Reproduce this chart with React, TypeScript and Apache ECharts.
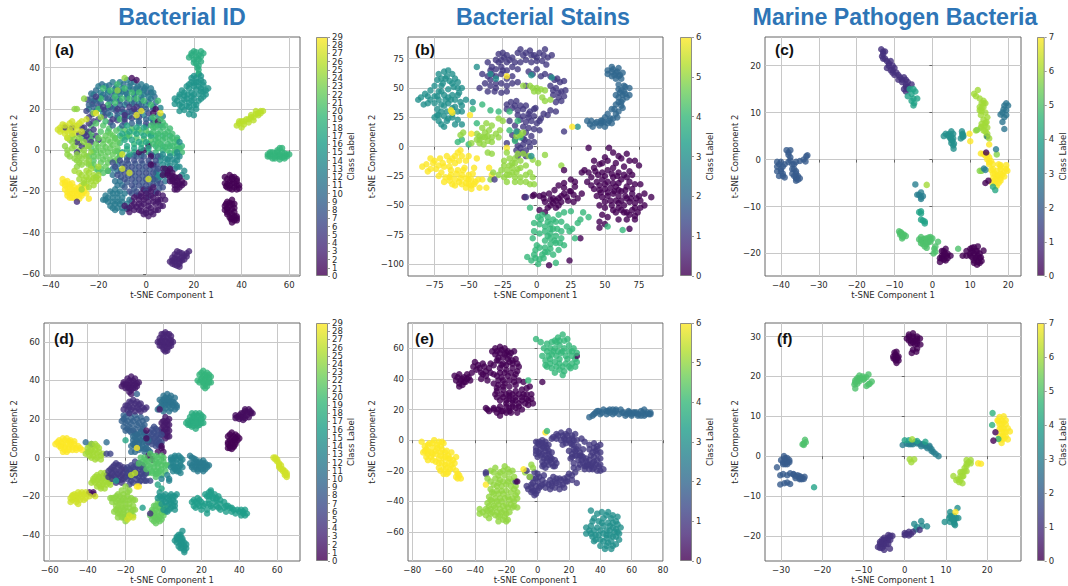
import React, { useEffect, useRef } from "react";
import * as echarts from "echarts";

type Group = [number, number[]];

const titles = ["Bacterial ID", "Bacterial Stains", "Marine Pathogen Bacteria"];
const panelLabels = ["(a)", "(b)", "(c)", "(d)", "(e)", "(f)"];
const viridis = ["#440154", "#482878", "#3e4989", "#31688e", "#26828e", "#1f9e89", "#35b779", "#6ece58", "#b5de2b", "#fde725"];

const fillA: Group[] = [
  [13, [-16,29,-13,28,-10,28.5,-7,29.5,-4,28,-1,27,2,25,-19,26,-15,23.5,-12,25,-9,22,-6,22.5,-3,22.5,0,22,3,21,6,20.5,-22,24,-19,20,-16,20.5,-13,21,-10,18.5,-7,16.5,-4,16,-1,17,2,15.5,5,17,7,16.5,-24,20,-21,19,-18,18,-15,17,-12,16,-9,16,-3,13,0,11.5,3,14.5,6,12]],
  [19, [-11,10.5,-8,8,-5,9,-2,8.5,1,8,4,7,7,7,10,7,13,6,-11,7,-8,6.5,-5,3,-2,3,1,3,4,2,7,2,10,2,13,0.5,15,2,-11,3.5,-8,0.5,-5,-1,-2,-1,1,-1,4,-1,7,0,10,-1.5,12,-1.5,-12,-0.5]],
  [11, [-11,-3,-8,-3.5,-5,-2.5,-2,-2.5,3,-3,6,-3,9,-4.5,12,-9,10,-10,7,-11,5,-14.5,8,-15,-12,-7,-12,-10,-14,-9,-16,-10,-14,-12,-11,-15,-13,-15,-10,-17,-12,-17]],
  [21, [-23,12,-25,9,-27,6,-23,1,-22,-1,-24,-3,-22,-5,-21,-9,-23,-7.5,-19,-9,-16,-10,-18,-11,-20,-10,-21,-13]],
  [5, [-27,11,-24,13,-22,14,-26,8,-24,9,-21,7,-25,5,-23,6.5]],
  [10, [-18.5,32,-15.5,31.5,-12.5,30.5,-9.5,32,-6.5,32.5,-3.5,31,-0.5,30,2,28,-21,29,-18,27,-14.5,27.5,-11.5,28.5,-8.5,28,-5.5,29.5,-2.5,29.5,0.5,28,3.5,26,-23,27.5,-20,24.5,-17,25.5,-14,25,-11,24,-8,25.5,-5,25,-2,24.5,1,23.5,4,23]],
  [6, [-24.5,24.5,-22.5,22.5,-20,21.5,-17.5,19.5,-15,21,-12.5,19,-10,20,-7.5,18.5,-5,18.5,-2,20,1,18,-25,19,-22.5,17.5,-20,15,-17.5,16.5,-15,13.5,-12,14.5,-9,13.5,-6,15.5,-3,16,0,13,3,13]],
  [21, [-21,13,-18,12,-15.5,10.5,-12.5,9.5,-9,10,-6,10.5,-3,10,0,9.5,3,11,-23,8,-19,9,-16,9,-13,6,-10,6,-7,7,-4,6,-1,5.5,2,5,5,4,-23,5]],
  [8, [-7,-3,-4,-3,-1,-3,2,-2,5,-3,-10,-6.5,-7.5,-6.5,-4.5,-6.5,-1.5,-6.5,1.5,-6.5,4.5,-7,-10.5,-10,-7.5,-9.5,-4.5,-9.5,-1.5,-9.5,1.5,-9.5,4.5,-10,-10.5,-13,-7.5,-12.5,-4.5,-12.5,-1.5,-12.5,1.5,-12.5,4.5,-13,-8,-15.5,-4.5,-15.5,-1.5,-15.5,1.5,-15.5,4.5,-16,-9,-18,-5,-18.5,-1.5,-18.5,1.5,-18.5,5.5,-18.5,-6,-21,-3,-22,1,-22.5]],
  [0, [34,-14,36,-13,38,-14,34,-16.5,36,-16,38,-17,35,-18.5,37,-18,33.5,-17.5,39,-18.5,35,-25.5,33.5,-26,36,-26,34,-28.5,36,-28.5,34,-30,36,-31,37,-32,35,-32.5,37,-34,38,-33,35.5,-33.5]],
  [3, [14,-49.5,16,-51,12,-52.5,14,-52.5,17,-51.5,11,-53.5,13,-53,15,-53.5,12,-55.5,14,-56.5,12,-50.5]],
  [18, [19,46,21,47.5,23,45.5,21,45,20,42.5,23,43,22,41,21.5,40]],
  [15, [21,35,22,37,19,35,23,34,21,33,18,32,20,32.5,22,31,24,31.5,26,30,18,30,21,29.5,24,28.5,15,29,17.5,27,20,27,23,28.5,14,27,16,26.5,19,26,24,26,13,24,16,24.5,19,24,22,24,14,22,17,21.5,20,22,16,19.5,19,19.5,21,20,18,17.5]],
  [26, [39,13,41,12.5,43,13.5,45,14.5,47,17,49,19,40,14,44,16,46,17.5]],
  [19, [52,-1,54,-1.5,56,-2,58,-1.5,53,-4,55,-3,57,-3.5,59,-3,56,1,52,-2,51,-3]],
  [29, [-34,-15.5,-32,-16.5,-33,-18,-31,-19,-29,-19,-27,-19,-33,-20.5,-31,-21,-29,-21,-27,-21,-25,-21,-32,-23,-30,-23,-28,-23.5,-35,-16]],
  [25, [-27,-12,-24,-11,-26,-14.5,-24,-14,-22,-13.5,-27,-17,-25,-16.5,-22,-17,-20,-14]],
  [27, [-35,10,-33,9,-31,10,-29,12,-33,11,-35,12.5,-31,14,-30,8]],
  [24, [-32,5,-30,5.5,-28,3.5,-33,0,-30,2,-28,0,-25,2,-32,-3,-28,-3,-26,-2,-29,-5,-27,-7,-24,-5,-23,-1]],
  [22, [-18,5,-16,5,-13,5.5,-20,1.5,-17,1.5,-14,2.5,-19,-1.5,-16,-1,-13,-0.5,-18,-4.5,-15,-4.5,-12,-4,-22,-3]],
  [14, [8,-4,11,-4.5,13,-5,7,-7,10,-7.5,13,-8,5,-12,8,-12]],
  [20, [4,14,7,13.5,4,11,7,11,10,10.5,2,8,5,8,8,8,11,8,4,5,7,5,10,5,13,5,1,3,5,1,8,1.5,11,2,13,2.5]],
  [12, [-14,-21,-12,-21,-16,-23,-14,-25,-12,-25,-10,-25,-12,-28,-14,-28,-17,-24,-10,-28,-8,-26]],
  [2, [-8,-28.5,-6,-27,-4,-27.5,-2,-29.5,0,-30.5,2,-30,4,-29,6,-27,-6,-24.5,-3,-26,-1,-26,1,-27,3,-25,5,-24,-4,-22,-2,-22.5,0,-23,2,-22,4,-21,7,-22,1,-19,-1,-19,5,-25]],
  [1, [9,-10,11,-12.5,13,-13.5,9,-12,11,-14,13,-17,15,-17,12,-15.5,14,-16,10,-15,12,-19]],
];

const pointsA: Group[] = [
  [12, [-20,31,-17,31,-14,33,-11,33,-8,34,-5,33,-2,32,0,31,2,30,3,28,-1,29,-4,30,-7,31,-10,30,-13,30,-16,28,-19,28,-22,27,-2,26,1,26,-5,27,-8,27,-11,27]],
  [9, [-23,25,-24,22,-21,24,-22,21,-19,23,-16,25,-14,20,-11,22,-8,23,-5,23,-2,22,-12,17,-9,18,-6,19,-3,18,0,20,-14,12,-10,12,-6,13,-16,18,-3,14,0,15,3,20]],
  [20, [-18,30,-15,29,-12,32,-9,30,-6,28,-3,28,-19,25,-16,22,-13,26,-10,25,-7,25,-4,25,-1,24,-20,20,-13,23,5,24,2,22,-17,14,-11,15]],
  [5, [-21,26,-18,21,-12,20,-7,21,-4,21,-14,15,-9,15,-24,16,-26,11,-28,8,-25,7,-22,10,-20,5,-29,4,-27,2,-31,11,-34,11,-29,-1,-23,4]],
  [1, [-6,35,-4,34,3,18,5,14,4,20,-1,0,1,2,-3,-1,2,-3,3,-7,7,-9]],
  [24, [-26,25,-9,35,-12,29,-22,18,-19,16,-29,20,-30,20]],
  [17, [-10,8,-7,9,-4,8,-1,7,2,7,-9,5,-6,5,-3,4,0,4,-8,2,-5,1,-2,1,1,1,-10,-1,-7,-2,-4,11,-8,12,-1,11]],
  [20, [3,16,6,15,2,12,5,12,8,12,3,9,6,9,9,9,5,6,8,6,11,6,3,3,6,3,9,3,12,4,14,1,15,-1,12,0,9,0]],
  [14, [7,-2,10,-3,13,-3,6,-5,9,-6,12,-6,14,-3,8,-9,4,-11,3,-14,6,-13,14,-8,16,-10,17,-13,15,-12,14,4,13,-1]],
  [22, [-20,6,-17,7,-14,7,-21,3,-18,3,-15,4,-12,4,-21,0,-18,0,-15,1,-12,1,-20,-3,-17,-3,-14,-2,-11,-2,-19,-6,-16,-6,-13,-5,-17,-8,-15,8,-22,-7]],
  [24, [-33,6,-31,4,-28,6,-34,2,-31,1,-33,-2,-29,-2,-26,0,-24,2,-30,-4,-27,-4,-25,-3,-28,-6,-25,-6,-31,7,-26,4,-29,-8,-24,-7]],
  [27, [-36,9,-34,8,-32,10,-30,12,-28,13,-34,12,-32,13,-36,11,-33,6,-31,8,-29,10,-27,14,-25,15,-37,10,-27,9]],
  [7, [-8,-5,-5,-5,-2,-5,1,-5,4,-5,-9,-8,-6,-8,-3,-8,0,-8,3,-8,5,-9,-9,-11,-6,-11,-3,-11,0,-11,3,-11,-9,-14,-6,-14,-3,-14,0,-14,3,-14,6,-16,-6,-17,-3,-17,0,-17,3,-17,7,-18,-7,-20,-4,-20,0,-20,4,-20,-13,-8,-11,-5,-12,-12,-14,-6]],
  [12, [-17,-22,-15,-20,-13,-19,-11,-20,-16,-25,-18,-24,-14,-23,-12,-23,-10,-23,-15,-27,-13,-26,-11,-26,-13,-29,-10,-30,-9,-21,-7,-24,-8,-28]],
  [2, [-9,-27,-7,-28,-5,-26,-3,-29,-1,-31,1,-32,3,-31,5,-29,7,-27,-5,-29,-2,-27,0,-29,2,-28,4,-26,6,-24,-1,-24,1,-25,-3,-24,-5,-23,3,-23,5,-21,0,-21,-2,-21,2,-20,8,-24,-7,-30,3,-18]],
  [1, [8,-9,10,-9,9,-11,11,-11,7,-12,12,-13,14,-13,10,-13,13,-15,15,-15,11,-15,16,-16,12,-17,14,-18,13,-19,2,-7]],
  [0, [33,-13,35,-12,37,-13,38,-15,39,-17,38,-19,36,-19,34,-18,33,-16,35,-15,37,-16,36,-14,35,-17]],
  [0, [34,-25,36,-24,37,-26,33,-27,35,-27,37,-28,33,-29,35,-30,37,-30,38,-32,36,-33,34,-31,38,-34,36,-35,34,-28]],
  [3, [13,-49,15,-50,17,-50,18,-49,11,-52,13,-51,15,-52,10,-54,12,-54,14,-54,16,-53,11,-55,13,-56,14,-55]],
  [29, [-35,-14,-33,-15,-31,-16,-34,-17,-32,-18,-30,-18,-28,-18,-34,-19,-32,-21,-30,-20,-28,-20,-26,-20,-33,-22,-31,-23,-29,-22,-27,-22,-25,-18,-24,-23.5]],
  [25, [-28,-11,-25,-10,-23,-9,-22,-12,-25,-13,-28,-14,-26,-16,-23,-15,-21,-15,-24,-18,-27,-19,-20,-12,-30,-10,-20,-8]],
  [18, [18,45,20,48,23,48,19,47,22,46,24,47,20,44,22,44,21,42,22,39,22,37]],
  [15, [20,36,23,36,19,33,22,33,24,33,17,31,20,31,23,30,25,29,16,28,19,28,22,27,25,27,14,26,17,25,20,25,23,25,12,25,15,23,18,23,21,22,15,21,18,21,20,17,14,19,12,22.5]],
  [26, [38,12,40,11,39,14,41,14,43,15,45,16,47,18,48,19,46,19,44,17,42,15,48,18]],
  [19, [51,-2,53,-1,55,-1,57,-1,59,-2,60,-2,52,-3,54,-3,56,-3,58,-3,54,-4,56,-4.5,58,-4,57,1,55,0]],
  [27, [-10,-9,-7,-11,-10,-2,1,-14]],
  [4, [-29,-25,-9,17,-5,20]],
  [28, [-4,17,-2,19,6,18,-21,18]],
];

const fillB: Group[] = [
  [0, [42,-12,48,-14,52,-12,58,-14,62,-10,68,-12,43,-21,50,-25,55,-23,59,-25,64,-24,68,-30,37,-30,40,-33,46,-33,50,-32,56,-31,60,-31,65,-37,70,-36,47,-39,52,-39,57,-38,60,-37,69,-44,73,-44,50,-47,54,-46,58,-46,62,-46,66,-44,72,-52,76,-52,56,-54,60,-52,64,-56,68,-58,72,-59,5,-44,10,-45,14,-46,18,-42,22,-43,25,-38,8,-52,12,-48,16,-50,20,-35,28,-30]],
  [6, [-75,-12,-72,-16,-69,-14,-64,-12,-60,-8,-57,-12,-63,-20,-59,-23,-55,-24,-50,-28,-47,-23,-64,-26,-62,-32,-57,-30,-52,-31,-48,-33,-45,-30,-43,-28,-53,-18]],
  [3, [-66,60,-70,58,-75,52,-62,54,-58,50,-70,47,-73,43,-80,43,-67,40,-63,40,-58,44,-70,36,-62,28,-73,27,-66,22,-58,30]],
  [2, [56,66,59,64,61,61,57,61,60,60,64,47,63,44,61,46,60,38,62,38,57,32,59,25,54,24,53,22,49,21,47,20,44,21,39,19,64,52,60,49]],
  [4, [3,-62,8,-64,12,-70,15,-70,10,-74,13,-80,17,-82,8,-76,6,-72,2,-86,-2,-92,6,-90,10,-87]],
  [5, [-42,6,-40,8,-36,9,-33,4,-28,8,-24,-16,-20,-16,-16,-14,-14,-19,-18,-22,-22,-24]],
  [1, [-24,76,-20,74,-16,72,-10,78,-4,78,0,76,5,78,-34,65,-28,72,-25,65,-34,57,-30,50,-22,47,15,58,12,48,16,46,-2,32,-6,28,-16,35,-14,27,-16,18,2,22,-12,-1,-9,6]],
];

const pointsB: Group[] = [
  [3, [-87,40,-85,42,-83,36,-82,45,-78,40,-80,37,-78,48,-75,43,-72,47,-70,52,-73,57,-72,62,-68,64,-65,65,-62,62,-60,58,-58,55,-55,50,-57,46,-61,51,-64,56,-67,58,-69,54,-65,49,-68,44,-72,40,-75,37,-65,42,-62,44,-60,40,-56,38,-52,40,-55,35,-60,34,-65,37,-68,35,-70,30,-66,30,-62,33,-55,30,-75,25,-72,22,-70,19,-68,17,-65,24,-62,25,-68,26,-58,23,-55,19,-60,19,-47,38,-72,27,-73,32]],
  [1, [-28,79,-25,80,-22,78,-30,74,-26,74,-22,72,-18,76,-14,80,-12,83,-8,80,-5,82,-2,78,2,80,6,83,8,76,11,78,-12,72,-8,74,-4,72,0,73,4,73,7,70,-18,68,-14,66,-36,72,-33,68,-30,66,-26,68,-22,65,-40,62,-36,60,-33,62,-30,60,-26,62,-22,58,-18,60,-38,54,-34,52,-30,54,-26,54,-22,52,-18,54,-14,55,-42,50,-36,47,-31,47,-26,46,-6,64,-3,62,0,66,3,60,6,62,10,60,13,57,17,55,20,56,10,52,14,50,18,47,21,48,12,44,16,42,20,43,14,38,18,39,-8,52]],
  [1, [-22,36,-19,38,-15,39,-12,35,-8,35,-22,32,-18,33,-14,31,-10,32,-5,30,-1,33,5,28,10,31,14,30,-10,26,-6,25,-2,26,3,24,8,27,-12,23,-8,21,-4,22,0,20,-20,22,-10,17,-6,16,-2,15,2,14,-14,13,-8,12,-4,9,-18,10,-16,6,-10,7,-6,4,-22,3,-14,1,-10,2,-5,0,-15,-3,-11,-5,-8,-3,-2,4,-8,-8,-14,-8]],
  [2, [52,65,55,68,60,67,63,63,52,62,55,60,58,58,62,58,60,53,65,51,68,50,62,48,58,44,60,42,65,45,68,44,63,40,58,36,62,35,60,30,55,32,52,28,58,28,56,24,50,25,48,22,52,20,46,18,50,17,40,22,37,22,43,20,41,17,55,20,47,22,63,33,66,42,58,63,55,64]],
  [5, [-5,52,-3,50,0,50,3,49,6,48,-2,47,1,47,4,42,6,39,10,40,-10,52]],
  [4, [-58,4,-55,6,-50,2,-44,20,-47,32,-40,36,-28,30,-34,31,-20,14,-14,22,-16,5,-12,8,-20,30]],
  [5, [-44,6,-42,3,-39,2,-36,5,-33,8,-30,11,-27,14,-25,22,-28,24,-35,14,-38,12,-40,16,-44,11,-42,9,-38,8,-33,18,-37,20,-48,3,-36,-5,-33,-6,-12,10,-15,9,-10,12,-14,12,-54,12,-56,10]],
  [6, [-81,-15,-84,-17,-78,-10,-76,-14,-78,-19,-80,-21,-74,-19,-71,-10,-66,-8,-62,-10,-58,-5,-56,-3,-55,-8,-52,-12,-60,-14,-64,-17,-68,-17,-70,-22,-72,-25,-67,-26,-63,-24,-58,-20,-54,-20,-50,-24,-46,-18,-48,-28,-52,-27,-56,-27,-60,-28,-64,-29,-68,-30,-60,-33,-55,-32,-50,-32,-46,-32,-42,-35,-48,-36,-52,-35,-37,-35,-40,-28,-35,-18,-33,-24,-44,-10,-50,-8,-63,31,-62,29,-49,27,-48,11,-22,60,-22,-1]],
  [5, [-32,-22,-28,-24,-26,-20,-24,-26,-22,-20,-20,-24,-18,-18,-15,-22,-12,-18,-16,-26,-12,-26,-8,-24,-5,-22,-24,-12,-20,-10,-16,-10,-12,-12,-8,-16,-18,-14,-14,-6,-22,-5,-6,-8,-3,-11,1,-14,6,-7,-10,-6,-16,-30,-12,-30,-8,-30,-5,-32,-2,-32,-3,-26,-34,-28,-22,-30,18,-16]],
  [0, [-2,-41,2,-42,5,-41,9,-40,13,-37,16,-33,20,-31,25,-28,28,-34,12,-44,16,-44,20,-40,24,-38,27,-41,6,-47,10,-50,14,-52,18,-47,23,-46,27,-47,30,-44,33,-40,2,-54,6,-56,20,-20,35,-20,38,-22,42,-18,46,-15,50,-9,53,-1,56,-5,60,-8,66,-6,38,-1,72,-12,75,-16,45,-24,48,-22,52,-20,56,-18,60,-22,64,-17,68,-21,70,-24,33,-22,40,-26,44,-30,48,-28,52,-30,56,-26,62,-28,66,-26,42,-36,46,-37,50,-36,54,-35,58,-34,62,-38,66,-34,72,-32,76,-32,44,-42,48,-43,52,-42,56,-40,60,-42,65,-42,70,-40,75,-42,79,-40,84,-43,46,-50,50,-52,55,-50,60,-48,64,-50,68,-47,72,-48,76,-46,79,-50,48,-58,52,-60,46,-64,58,-56,62,-54,66,-56,70,-54,74,-56,60,-62,66,-62,72,-62,68,-70,46,-69,50,-66,24,-97,9,-101,32,-78,-9,-43,-3,-42]],
  [4, [-5,-52,1,-60,4,-58,8,-60,12,-62,16,-58,20,-56,25,-55,-2,-65,2,-66,6,-68,10,-66,14,-64,18,-64,22,-68,26,-70,30,-65,34,-56,38,-60,32,-62,-2,-72,2,-74,10,-70,18,-72,24,-72,28,-78,-3,-78,6,-80,10,-78,14,-76,18,-78,20,-84,14,-82,10,-83,6,-86,16,-88,0,-84,-1,-88,4,-92,8,-90,12,-92,-7,-94,-4,-97,-1,-95,2,-96,5,-95,1,-100,14,-99,52,-68,63,-71]],
  [3, [-4,-8,-34,62,-44,68,-30,58,-4,61,11,59,30,17,-15,13]],
  [6, [26,17]],
  [1, [-8,-43,-31,-28,20,13]],
];

const fillC: Group[] = [
  [0, [2.5,-21,3.5,-21.5,4,-20,3,-20.5,2.5,-19.5,10,-20.5,11,-20,12,-20.5,12.5,-21,11.5,-21,10.5,-19.5,11,-22,12.5,-22,11.8,-19.5]],
  [1, [-13,23,-13.3,22,-12.5,21.5,-11.5,20.5,-10.5,19,-10.5,18.5,-8.5,17.5,-8,17,-7,15.5,-6.5,15.5]],
  [7, [16,-3,17,-3.5,18,-3,18,-4,17.5,-5,19,-2.5,15,-1,16,-2,14,0.8,15,-0.5,16.5,-4.3,18,-1.5]],
  [6, [12.5,13,13.5,12,13,11,12.5,10.5,13.5,8.5,13,7,14,7.8,14,6,14.3,5]],
  [5, [-2.5,-17.5,-1.5,-18,-1,-17.5,-0.5,-17,-3,-17.2,-8,-15.8,-7.8,-16.5,-8.5,-15.6,0.8,-18.5,-1.7,-16.8]],
  [2, [-40.5,-1,-39.5,-1.5,-40,-2.5,-39.5,-3.5,-38,1.5,-37.5,-0.2,-36.5,-2,-36,-3,-35.5,-3.5,-36,-4]],
  [3.5, [4,5.2,5,5,5.3,4,7.9,5.3,4.8,4.5]],
];

const pointsC: Group[] = [
  [1, [-13.5,23.5,-13,22.5,-12.5,23,-13,21.5,-12,21,-11,21,-11.5,20,-10.5,20,-12,19.5,-11,19,-10,19.5,-9.5,18.5,-10,18,-9,18,-9,17,-7.5,17.5,-7,17,-6.5,16.5,-8,16.5,-7,16,-5.5,16,-7.5,15,-6.5,15,-7,14.5]],
  [4, [-6,15,-5,15,-4.5,14.5,-5.5,14,-6.5,13.5,-5,13,-4,13,-5.5,12.5,-4.8,12,-5,11.5]],
  [2, [-41,-0.5,-40,-0.5,-39,-1,-41,-1.5,-41,-2.5,-40,-2,-40.5,-3.5,-39.5,-3,-39,-3.8,-38.5,2,-37.5,2,-38,1,-37.5,0.5,-38,-0.5,-37,-1,-36.5,-1,-36,-0.5,-35,-0.3,-37,-2,-37,-3,-36,-2.5,-36.5,-3.5,-36,-3.8,-35.5,-4.3,-36,-4.5,-35,-4,-34,0,-33.3,0.7,-33,0.9,-33.5,-0.4]],
  [3, [-4.5,-5.3,-4,-7.5,-3.5,-7.5,-3,-7,-3,-8,-2.5,-7.8,-3,-8.4]],
  [4, [-3.5,-11.2,-3,-11,-3,-11.5,-3,-12.8,-2.5,-13,-2,-13.2,-2,-13.6]],
  [6, [-1.5,-5.4]],
  [5, [-8.8,-15.3,-8.3,-15.5,-8.5,-16,-8,-16.2,-7.5,-16,-7,-16.3,-8,-16.8,-3.5,-17,-3,-16.5,-2.5,-17,-2,-17,-1,-16.6,-0.5,-16.5,0,-16.8,-3,-17.8,-2.5,-18,-1.5,-17.6,-0.5,-17.5,-2,-18.5,-1.5,-18.8,1.5,-17.5,0.5,-19,0.8,-19.6,0.3,-20,6.8,-19]],
  [0, [2,-21,2.5,-20.5,3,-19.5,3.5,-19,3.8,-20.5,4.8,-20.5,3,-21.3,4,-21,2,-21.8,3.3,-20,10,-19,10.5,-18.8,11,-18.7,12,-18.5,9,-19.5,8,-20.5,9,-20.5,10,-20,11.5,-19.5,13.5,-19.4,12.5,-20,10.5,-20.8,11.5,-20.8,12.8,-20.8,11,-21.5,12,-21.8,13,-21.6,11.8,-22.4]],
  [3.5, [3,5,3.5,5.5,4.5,5.5,5,6,5.5,5.5,4.5,4.8,5,4.2,5.5,4.5,5,3.5,5.5,3,5.6,2.3,7.8,6,8,5.5,8,4.8,7.5,4.5,8.2,5,5.7,3.4]],
  [2.7, [19.5,12,19,11.5,18.8,10.7,19.5,10.5,20,11.5,18.5,10,19.5,9.5,18,9.6,19,9,18.5,8,19,6.5,14.5,4.9]],
  [6, [11,14,12,14.8,11.5,13.5,13.5,12.5,13,12,14,12,12.5,11.2,13.5,11.2,13,10.3,14,10,12.8,9.5,14.5,9,14.3,8,13,7.6,13.8,7.2,14.5,6.8,12.8,6.8,13.5,6.2,11.5,6.2,14.5,5.5,15,4.5]],
  [7, [9.8,5.5,10,3.9,15,3.2,12.8,1.3,13.5,1.2,14.5,1,15,0.5,14.5,0,15.5,-0.3,16,-1,17.5,-1,18,-1.2,19.5,-1.2,18,-2,19.5,-2,17,-2.4,15.5,-2.2,19.8,-2.4,16.5,-3,18.5,-3.2,17.5,-3.4,19,-3.6,16,-4,17,-4.2,18,-4.5,16.5,-5,15.8,-5,17,-5.6]],
  [5.7, [11.8,6.3,12.5,-2.4,13,-2.4,17,1.1]],
  [3, [16.8,2.2,13.6,-1.9,14,-2.2]],
  [0, [14.2,1.5,14,-5,14.8,-4.5]],
  [4.2, [16,-5.8,16.6,-6.5]],
];

const fillD: Group[] = [
  [3, [0,64,2,64,-1,61,1,61,3,61,-2,60,0,59,2,59,4,59.5,-1,58,1,58,3,57.5,0,56,2,55.5,4,63]],
  [2, [-18,40,-16,40,-20,38,-18,37.5,-16,37.5,-14,38.5,-21,38,-19,36.5,-17,35,-15,36]],
  [4, [-17,28.5,-15,28,-13,27.5,-19,27,-17,25,-13,25,-10,25,-19,24.5]],
  [9, [-20,21,-17,20.5,-14,20,-11,19,-20,18,-17,17.5,-14,17,-11,16,-19,15,-16,14,-12,13.5,-21,20,-18,14,-15,12.5]],
  [0, [35,12,37,11,39,11,35,9,37,9,39,9,34,7,36,7,38,7,35,5,37,5.5]],
  [1, [42,23,44,23.5,46,23,39,21,41,21,43,20.5,45,21,38,20.5,43,25]],
  [19, [20,44,22,43,24,43,20,41,22,41,24,41,19,39,21,39,23,39,25,39,22,38,22,36]],
  [18, [16,22,18,22,20,22,15,20,17,20,19,19.5,13,19,15,19,17,19,19,17,21,18,14,17,16,16.5,18,16.5,13,17]],
  [11, [1,31,3,31,-1,29,1,29,3,29,5,29,0,28,2,28,4,28,6,28,-2,26,1,25.5,4,25.5,7,27]],
  [2, [2,19,0,19,2,17,0,16.5,2,15,0,13.5,2,13,-1,13.5,2,11]],
  [7, [-4,15,-6,14.5,-6,12,-4,11,-2,10,-8,10,-6,8.5,-4,8,-2,8,-3,7]],
  [10, [-15,10.5,-13,10.5,-11,11,-15,8,-13,8,-11,8,-9,7,-16,7,-14,5,-12,5,-10,4.5,-8,4,-15,3]],
  [29, [-56,8,-54,8,-52,9,-50,8.5,-54,6,-52,5.5,-50,5.5,-48,5.5,-46,5,-49,8,-47,8.5,-53,3,-51,3,-44,5]],
  [25, [-37,6,-35,6,-39,6,-39,3,-37,3,-35,2,-33,1,-40,3,-38,0,-36,-1]],
  [27, [-48,-19.5,-46,-19.5,-44,-19,-42,-19,-48,-22,-46,-21.5,-44,-22,-42,-22,-40,-19,-45,-24]],
  [25, [-36,-10,-34,-10,-32,-9.5,-37,-12,-35,-12,-33,-12,-31,-12.5,-29,-10,-34,-14,-32,-14,-29,-13,-28,-14,-33,-16]],
  [5, [-28,-6,-26,-4,-24,-4,-22,-6,-20,-6,-28,-9,-26,-6.5,-24,-8.5,-22,-9,-20,-10,-26,-9.5,-24,-12,-22,-11.5,-28,-11,-30,-9]],
  [6, [-18,-6,-16,-5,-14,-4,-12,-5,-10,-6,-18,-9.5,-16,-8,-14,-8,-12,-8.5,-10,-9,-17,-12,-14,-11.5,-12,-12,-10,-12]],
  [21, [-11,-2,-9,-1,-6,1,-3,0,0,0,-11,-4,-8,-4,-5,-3,-3,-3,-1,-4,1,-4,-8,-8,-6,-7,-4,-7,-2,-7,-4,-8.5]],
  [13, [5,-1,7,-1,9,0,5,-4.5,7,-5,9,-4,4,-3,6,-6,8,-7,6,1]],
  [12, [15,0,17,-2,19,-3,21,-3,15,-4,17,-4,19,-4,21,-4,23,-4,16,-6,18,-6,20,-6,22,-6]],
  [24, [-25,-20,-23,-20,-21,-19,-19,-18,-27,-21,-24,-22,-22,-22,-20,-22,-18,-22,-16,-22,-25,-25,-22,-24,-20,-26,-18,-26,-16,-27,-25,-27,-23,-27,-21,-27,-19,-30,-17,-29.5,-22,-29,-24,-29,-21,-31]],
  [22, [-6,-28,-4,-27,-2,-26,0,-28,-5,-30.5,-3,-30,-1,-29,-5,-33,-3,-32,-1,-32,-5,-25]],
  [15, [0,-20,3,-20,6,-20,-2,-20,0,-22,3,-22,5,-22,0,-25,3,-24,6,-25,4,-26,1,-28]],
  [16, [17,-23,19,-22,22,-19,24,-20,26,-20,28,-21,17,-26,19,-25,22,-24,24,-24,27,-23,30,-24,25,-25,28,-25,33,-25,35,-26,30,-27,36,-28,40,-28,42,-28,42,-29,24,-18,25,-17,16,-25]],
  [15, [9,-41,8,-40,7,-42,9,-43,7,-44,10,-45,11,-46,9,-45,10,-43,11,-48,9,-47]],
  [27, [59,0,60,-1,61,-4,62,-4,63,-6,64,-7,65,-9]],
];

const pointsD: Group[] = [
  [3, [-1,64,1,65,3,64,-2,62,0,62,2,62,4,61,-3,60,-1,60,1,60,3,59,5,60,-2,58,0,57,2,57,4,58,1,55]],
  [2, [-19,41,-17,42,-15,41,-21,39,-19,38,-17,39,-15,38,-13,39,-22,37,-20,36,-18,36,-16,36,-14,37,-18,34,-17,33]],
  [9, [-21,22,-18,23,-15,22,-12,21,-9,20,-22,19,-19,19,-16,19,-13,18,-10,17,-21,16,-18,16,-15,15,-12,15,-20,14,-17,13,-14,12,-10,13,-14,33]],
  [4, [-18,29,-16,30,-14,29,-12,28,-20,27,-18,26,-16,26,-14,26,-11,26,-9,26,-21,25,-18,23,-15,24,-12,24]],
  [0, [36,13,38,12,34,11,36,10,38,10,40,10,34,8,36,8,38,8,35,6,37,6,34,5,36,4.5]],
  [1, [41,23,43,24,45,25,38,22,40,22,42,21,44,22,46,24,40,20,42,19.5,47,23]],
  [19, [21,45,23,44,19,43,21,42,23,42,25,42,18,40,20,40,22,40,24,39,21,37,23,37]],
  [18, [15,23,17,23,19,23,21,21,14,21,16,21,18,21,20,20,12,18,14,18,16,18,18,18,20,18,15,16,17,15]],
  [11, [0,32,2,33,4,32,-2,30,0,30,2,30,4,29,6,31,-1,27,1,27,3,27,5,27,7,26,-3,25,0,24,3,24,6,25]],
  [2, [1,21,3,20,-1,18,1,18,3,17,-1,15,1,15,3,14,-1,12,1,12,3,11,1,10,-2,25]],
  [7, [-5,16,-3,14,-7,13,-5,13,-3,12,-1,12,-9,11,-7,10,-5,10,-3,9,-1,8,-8,8,-6,7,-4,6,-2,6]],
  [10, [-16,11,-14,12,-12,13,-10,12,-16,9,-14,9,-12,9,-10,9,-8,9,-17,6,-15,6,-13,7,-11,6,-9,5,-17,3,-13,4,-10,3,-7,3,-30,8,-41,8,-38,7]],
  [17, [-20,9]],
  [1, [-9,14,-9,10,-3,3,0,3,-1,6,-1,5,-8,1,-6,-1]],
  [29, [-57,7,-55,9,-53,10,-51,10,-49,9,-55,6,-53,7,-51,7,-49,7,-47,7,-45,6,-54,5,-52,4,-50,4,-48,4,-46,4,-43,4]],
  [25, [-38,7,-36,7,-34,5,-40,5,-38,4,-36,4,-34,3,-32,2,-41,2,-39,1,-37,1,-35,0,-33,-1]],
  [1, [-37,-19,-39,-18,-37,-18]],
  [6, [-28,2,-30,2]],
  [27, [-49,-21,-47,-19,-45,-18,-43,-18,-41,-18,-49,-23,-47,-21,-45,-21,-43,-20,-41,-21,-39,-20,-46,-23,-36,-20,-48,-20]],
  [25, [-37,-11,-35,-9,-33,-8,-31,-8,-38,-13,-36,-13,-34,-11,-32,-11,-30,-11,-28,-12,-35,-15,-33,-15,-30,-14,-31,-16]],
  [5, [-29,-7,-27,-5,-25,-3,-23,-4,-21,-5,-29,-10,-27,-8,-25,-7,-23,-7,-21,-8,-19,-8,-27,-11,-25,-10,-23,-10,-21,-11,-25,-13,-22,-13]],
  [6, [-19,-5,-17,-4,-15,-2,-13,-3,-11,-4,-19,-8,-17,-7,-15,-6,-13,-6,-11,-7,-9,-8,-19,-11,-17,-10,-15,-9,-13,-10,-11,-10,-9,-12,-16,-13,-13,-13,-7,-12,-18,-14,-15,-9]],
  [26, [-17,-9,-15,-8]],
  [21, [-12,0,-10,0,-7,2,-4,1,-1,1,-13,-3,-10,-3,-8,-2,-6,-1,-4,-2,-2,-2,0,-2,2,-4,-9,-6,-7,-5,-5,-5,-3,-5,-1,-6,1,-7,-6,-8,-3,-8,-1,-9,-4,-10]],
  [13, [4,-1,6,0,8,1,5,-3,7,-3,9,-2,10,-1,4,-5,6,-5,8,-5,10,-5,5,-7,7,-7,9,-8,4,0,2,-9,-1,-11,3,-11,3,-12]],
  [12, [14,1,16,-0.5,17,-1,19,-2,21,-1.5,14,-3,16,-3,18,-3,20,-3,22,-3,24,-4,15,-5,17,-5,19,-5,21,-5,23,-5,18,-7,21,-7]],
  [29, [-13,-15,-14,-15,-14,5]],
  [24, [-28,-21,-26,-21,-24,-19,-22,-17,-20,-15,-18,-17,-27,-23,-25,-23,-23,-23,-21,-21,-19,-20,-17,-21,-15,-22,-24,-26,-22,-26,-20,-24,-18,-24,-16,-25,-15,-27,-26,-28,-23,-29,-21,-29,-19,-28,-17,-28,-24,-31,-22,-31,-20,-31,-18,-31,-16,-30,-20,-33]],
  [27, [-18,-30,-16,-31,-19,-32]],
  [16, [-25,-12,-11,-26]],
  [22, [-6,-27,-4,-25,-2,-24,-7,-30,-5,-29,-3,-28,-1,-27,1,-26,-6,-32,-4,-31,-2,-31,0,-30,-4,-34,-2,-33,-3,-23]],
  [4, [-7,-29]],
  [15, [-2,-18,1,-19,4,-19,7,-19,-3,-21,-1,-21,2,-21,5,-20,1,-23,4,-23,6,-23,-1,-24,2,-25,5,-25,0,-27,3,-27,6,-27,2,-28]],
  [17, [-1,-16,-3,-14]],
  [16, [16,-22,18,-21,20,-23,23,-20,25,-18,27,-19,29,-20,15,-23,18,-24,21,-25,24,-22,26,-21,28,-22,30,-22,32,-23,20,-27,23,-27,26,-26,29,-26,32,-26,34,-25,36,-26,37,-27,33,-28,39,-27,38,-29,41,-27,43,-27,44,-29,41,-30,43,-30,23,-29]],
  [15, [10,-38,9,-40,7,-41,6,-43,8,-42,10,-42,9,-44,11,-44,8,-46,10,-47,12,-47,11,-49,12,-45]],
  [27, [58,0,59,-1,60,-2,61,-3,61,-5,62,-6,63,-7,64,-8,65,-8,65,-10,64,-9]],
];

const fillE: Group[] = [
  [1, [1,-1,3,0,6,-5,0,-11,4,-12,8,-13,12,-15,10,-17,3,-17,0,-22,-3,-25,-4,-29,-7,-30,-3,-33,-1,-35,3,-29,7,-29,11,-27,14,-25,17,-25,20,-22,22,-26,23,-18,12,1,17,1,22,1,25,0,18,0,23,-3,25,-6,22,-11,28,-10,31,-12,33,-13,36,-14,33,-16,31,-17,40,-20,35,-19,27,-10,29,-6,33,-6,36,-2,38,-6]],
  [0, [-51,41,-48,40,-45,40,-50,37,-47,38,-44,41,-41,48,-38,49,-34,48,-33,42,-36,44,-30,50,-26,58,-23,59,-20,57,-17,57,-25,54,-22,54,-19,53,-16,52,-23,49,-20,49,-16,50,-24,44,-21,44,-17,44,-13,45,-25,39,-22,39,-18,39,-15,38,-26,34,-22,35,-20,30,-16,30,-12,30,-9,30,-7,27,-23,30,-27,30,-18,29,-14,26,-10,26,-6,23,-24,26,-20,26,-16,26,-12,22,-20,22,-16,22,-25,20,-22,19,-18,19,-28,21,-32,20]],
  [4, [9,64,12,64,14,65,17,65,6,58,10,58,13,58,16,58,20,58,22,58,24,53,7,55,14,53,19,53,20,48,16,48,12,48,8,50,24,48,3,55,5,49]],
  [2, [36,17,38,19,41,18,45,19,49,18,54,18,58,18,61,18,63,18,67,18,69,17,72,17,60,17,50,20,66,16]],
  [1, [0,-2,3,-4,5,-3,-1,-7,1,-8,5,-7,7,-9,3,-9,6,-12,9,-12,4,-16,7,-16,10,2,13,3,16,3,19,3,23,0,18,-2,21,-2,24,-7,22,-9,25,-10,28,-13,31,-14,34,-17,37,-16,40,-16,38,-13,36,-11,34,-10,37,-7,38,-4,40,-8,30,-17,27,-16,-1,-25,3,-26,-1,-30,-4,-31,-2,-33,1,-31,5,-28,9,-28,12,-25,14,-29,16,-29,19,-27,9,-30]],
  [3, [38,-48,41,-47,44,-49,47,-51,35,-53,41,-54,46,-56,50,-53,33,-59,36,-59,40,-59,44,-59,48,-57,50,-58,35,-63,39,-62,44,-62,48,-63,51,-60,42,-66,45,-67,48,-69,37,-65,43,-71]],
  [6, [-70,-3,-67,-2,-64,-3,-62,-4,-71,-6,-68,-8,-65,-7,-62,-8,-59,-8,-57,-10,-70,-9,-67,-9,-63,-12,-60,-12,-57,-12,-54,-13,-67,-13,-63,-15,-59,-16,-55,-16,-62,-20,-58,-18,-54,-18,-58,-22,-51,-22,-51,-25,-72,-7,-61,-1]],
  [5, [-28,-21,-25,-23,-22,-20,-18,-21,-28,-29,-25,-28,-22,-27,-19,-27,-16,-27,-14,-30,-29,-34,-26,-33,-23,-33,-20,-33,-17,-34,-14,-36,-30,-39,-27,-38,-24,-38,-21,-38,-18,-39,-15,-40,-31,-43,-28,-43,-25,-42,-22,-43,-19,-44,-16,-44,-35,-47,-29,-47,-26,-47,-23,-47,-20,-48,-32,-46,-25,-50,-22,-52]],
];

const pointsE: Group[] = [
  [0, [-53,42,-50,43,-47,41,-45,43,-52,39,-49,39,-46,38,-43,39,-48,36,-50,35,-42,44,-39,46,-40,51,-35,50,-37,47,-33,45,-35,43,-31,47,-30,44,-36,40,-28,49,-28,43,-32,39,-26,52,-29,58,-27,60,-24,61,-21,60,-19,58,-15,58,-27,56,-24,57,-21,56,-18,55,-14,53,-25,52,-22,50,-18,51,-13,50,-24,47,-20,46,-16,47,-14,43,-12,48,-26,42,-23,41,-19,42,-15,41,-12,39,-9,38,-28,37,-25,36,-21,37,-18,35,-14,36,-26,32,-22,33,-18,31,-14,32,-10,33,-7,34,-5,35,-4,30,-7,30,-26,28,-22,28,-18,27,-14,28,-10,28,-6,26,-4,27,-3,24,-8,24,-12,24,-16,24,-20,24,-24,22,-18,21,-14,21,-10,20,-33,21,-31,19,-28,20,-26,18,-23,19,-20,18,-17,18,-13,18,-24,16,3,38,25,55]],
  [4, [-1,66,2,64,4,60,6,63,11,65,13,67,16,69,19,66,8,60,11,60,14,62,17,60,20,62,23,60,9,56,12,55,15,57,18,55,22,55,25,57,5,52,8,53,11,51,14,50,18,50,22,50,25,51,6,48,9,47,11,44,14,46,17,45,21,47,16,42.5,-6,39]],
  [2, [33,15,35,16,37,18,39,19,42,20,44,19,46,20,48,20,50,19,53,20,55,18,57,17,59,18,62,18,64,17,66,19,68,20,70,18,72,18,40,17,44,17,48,17,52,17,56,16,60,16,64,16,68,16,71,17,46,18,58,19]],
  [1, [-1,-1,1,-3,3,-2,5,-1,7,-3,-1,-5,2,-6,4,-5,7,-7,9,-8,-1,-9,2,-10,5,-10,8,-11,11,-13,3,-14,6,-14,9,-15,11,-17,5,-18,9,1,12,4,15,5,18,4,20,6,22,3,24,4,15,0,20,0,16,-3,22,-3,20,-7,23,-6,26,-4,24,-10,21,-12,27,-8,29,-11,26,-13,23,-15,29,-15,32,-16,35,-15,30,-19,33,-19,36,-18,38,-20,42,-19,39,-17,40,-12,38,-9,35,-8,40,-3,33,-3,36,-5,28,1,30,-1,-5,-24,-2,-21,1,-24,4,-23,0,-27,-3,-28,-6,-32,-4,-34,-2,-36,0,-33,2,-30,5,-31,8,-26,10,-24,12,-28,15,-26,18,-27,11,-31,14,-32,17,-31,19,-24,22,-23,24,-21,26,-18,25,-28,-14,-27,-33,-22,8,-32]],
  [3, [34,-46,36,-51,39,-53,42,-51,45,-47,48,-49,51,-50,31,-57,34,-56,38,-57,42,-56,45,-54,48,-54,51,-55,53,-57,31,-61,34,-61,37,-62,42,-61,46,-59,49,-60,52,-61,36,-66,40,-65,44,-64,47,-66,50,-63,52,-65,40,-69,44,-69,47,-71,50,-68,46,-62]],
  [6, [-74,-1,-72,-4,-69,-2,-66,0,-63,-1,-60,-2,-73,-8,-70,-7,-67,-5,-64,-5,-61,-6,-58,-7,-55,-8,-71,-11,-68,-11,-65,-9,-62,-10,-59,-11,-56,-12,-52,-11,-70,-13,-65,-14,-61,-15,-57,-15,-53,-15,-63,-18,-60,-19,-56,-19,-52,-20,-60,-22,-57,-21,-50,-23,-52,-24,-49,-25,-33,-29]],
  [5, [-30,-20,-27,-18,-24,-21,-21,-17,-19,-19,-16,-20,-32,-25,-30,-27,-27,-25,-24,-26,-21,-23,-18,-25,-15,-24,-30,-32,-26,-30,-23,-30,-20,-29,-17,-30,-15,-32,-13,-34,-31,-37,-28,-35,-25,-35,-22,-35,-19,-37,-16,-38,-13,-38,-32,-41,-29,-40,-26,-40,-23,-40,-20,-42,-17,-42,-15,-43,-13,-44,-37,-45,-33,-45,-30,-45,-27,-44,-24,-45,-21,-46,-18,-47,-37,-48,-33,-49,-30,-48,-27,-49,-24,-49,-21,-50,-19,-52,-31,-51,-25,-53,-20,-53,-8,-21,-5,-24,-4,-16,-3,-18]],
  [1, [-33,-21,-7,-20]],
  [6, [-9,-19,5,5]],
  [4, [6,6]],
  [0, [-13,-27]],
];

const fillF: Group[] = [
  [0, [1,30,2,30,3,29.5,1.5,29,2.5,29,2,28.5,3,28.2,-2.3,25.5,-2,25,-2.3,24.5,-1.7,24.6,-2.7,24.5]],
  [5, [-11.5,19,-11,19.5,-12,18.5,-10.5,19.5,-9.8,19.5,-11.5,18.2]],
  [7, [23.5,9,24,8.5,23.5,8,24,7,24,6,24.5,6,23.8,5,23.7,4.2,24.2,4.5,23,6.8,22.7,8.8]],
  [3, [1,3,2,3,3,3.2,4,3,5,2.8,6,2.2,6.5,1.3]],
  [2, [-29,-0.5,-29.5,-1.5,-28.5,-1.5,-29,-2,-28,-1.5,-27,-4.5,-26.5,-5,-25.5,-5.5,-25,-5.8,-24.3,-5.2]],
  [6, [15,-1,15,-2,14.5,-3.8,14,-5,13.5,-6,13.5,-4,16,-1.8]],
  [1, [-6,-23,-5.5,-22,-5,-22,-4.5,-21,-5,-21,-4,-21,-4,-20.5,-3.5,-20,-6,-21.5,0.5,-19.5,1.5,-19.5,-5,-22.5,-4,-22,-5.5,-21.5]],
  [3.5, [11.5,-15,12,-16,12.5,-15.5,11,-15,12,-16.5]],
];

const pointsF: Group[] = [
  [0, [0.5,29.5,1,30.5,2,30.8,3,30,3.7,29.5,1,29,2,29.5,3,28.8,1.5,28.3,2.5,28,3.8,28,3,27,2,26.7,1.7,25.9,2.8,26.2,-2.5,26,-2,26.2,-2.8,25,-1.5,25,-2.2,24,-1.5,24,-2,23.4]],
  [5, [-12,17,-12.2,18,-12,19,-11.5,19.6,-11,20.2,-10.2,20,-9.3,19.8,-8.8,20.5,-11,18.8,-10,19.2,-8.5,18.2,-8,18.7,-8.8,18,-9.3,17.6]],
  [5, [-24.8,3,-24.5,3.2,-24,3.5,-24.2,4.1,-24.5,2.8]],
  [7, [23,9.8,24,10,22.5,9,24.5,9,23,8,24.5,8,23.5,7,25,7,23.5,6,25.5,6.2,23,5,24.5,5,23,4.2,25,4.2,23.5,3.3]],
  [4.5, [21.3,10.8,21.2,7.8,22.7,4.3]],
  [0, [22,6,21.5,3.9]],
  [3, [-0.5,2.8,0.5,3.1,1.5,3,2.5,3.6,3.5,3.2,4.5,3,5,2.5,5.5,2,6.5,1.8,7,1,7.5,0.5,8.2,0,4,2.5,6,2.6]],
  [4, [0,4,1,4,3,3.8,5,3.6]],
  [6, [1.8,4.2,1.2,-0.8,1.6,-1.5,2.3,-0.8]],
  [2, [-29.3,0,-28.5,-0.5,-30,-1,-29,-1,-28,-1,-29.5,-2,-28.5,-2,-31,-2.8,-30.2,-4.8,-29.5,-4.5,-28.5,-4.8,-27.8,-4.3,-27,-4.6,-26,-4.8,-25.5,-5,-25,-5.3,-24.5,-5.7,-26.5,-5.5,-30.2,-7.1,-29.2,-6.8,-28.5,-6.6,-27.8,-7,-25.5,-5.8]],
  [4, [-22,-7.8]],
  [6, [16,-1,15.5,-1.5,15,-2.5,14.5,-3,14,-4,15,-3.8,14.2,-5,13.5,-5,13,-5.8,12.5,-6,14,-6.8,11.8,-5,13.2,-6.5]],
  [7, [17.8,-1.8,18.5,-1.9]],
  [3.5, [12.8,-13,11,-14,12,-15,13,-15.5,10.8,-15.5,11,-16.5,12,-17,9.7,-16.5,12.2,-17.3,11.5,-15.8]],
  [7, [12.3,-14]],
  [3.3, [2.3,-17,3,-17.8,4,-16.3,4.2,-17.5,5.4,-17.6,2.7,-18.4]],
  [1, [3.6,-18.5,0,-19.3,1,-19,2,-19,1,-19.9,0,-19.8]],
  [1, [-6,-22,-5.5,-21,-5,-20.5,-4,-19.8,-3,-20,-6.5,-22.8,-5.5,-23,-4.5,-22,-3.5,-21,-5,-23.5,-3.6,-23.2]],
];

const allPoints = [
  [...fillA, ...pointsA], [...fillB, ...pointsB], [...fillC, ...pointsC],
  [...fillD, ...pointsD], [...fillE, ...pointsE], [...fillF, ...pointsF],
];

const xTicksA = [-40, -20, 0, 20, 40, 60];
const yTicksA = [-60, -40, -20, 0, 20, 40];
const xTicksB = [-75, -50, -25, 0, 25, 50, 75];
const yTicksB = [-100, -75, -50, -25, 0, 25, 50, 75];
const xTicksC = [-40, -30, -20, -10, 0, 10, 20];
const yTicksC = [-20, -10, 0, 10, 20];
const xTicksD = [-60, -40, -20, 0, 20, 40, 60];
const yTicksD = [-40, -20, 0, 20, 40, 60];
const xTicksE = [-80, -60, -40, -20, 0, 20, 40, 60, 80];
const yTicksE = [-60, -40, -20, 0, 20, 40, 60];
const xTicksF = [-30, -20, -10, 0, 10, 20];
const yTicksF = [-20, -10, 0, 10, 20, 30];
const classTicks30 = ["0","1","2","3","4","5","6","7","8","9","10","11","12","13","14","15","16","17","18","19","20","21","22","23","24","25","26","27","28","29"];
const classTicks7 = ["0","1","2","3","4","5","6"];
const classTicks8 = ["0","1","2","3","4","5","6","7"];

const xTicks = [xTicksA, xTicksB, xTicksC, xTicksD, xTicksE, xTicksF];
const yTicks = [yTicksA, yTicksB, yTicksC, yTicksD, yTicksE, yTicksF];
const classTicks = [classTicks30, classTicks7, classTicks8, classTicks30, classTicks7, classTicks8];
const xRanges = [[-42.8, 64.5], [-94.5, 92.6], [-44.2, 23.4], [-63, 72], [-82.7, 80], [-33.9, 28.2]];
const yRanges = [[-61, 54.9], [-110.2, 93.5], [-24.8, 26.1], [-53.6, 69.8], [-78.9, 76.5], [-26.3, 33.4]];
const classMax = [29, 6, 7, 29, 6, 7];

const plotX = [[44, 300], [408, 663], [765, 1021], [44, 300], [408, 663], [765, 1021]];
const plotY = [[37, 276], [37, 276], [37, 276], [323, 561], [323, 561], [323, 561]];
const barX = [[316, 328], [680, 692], [1037, 1049], [316, 328], [680, 692], [1037, 1049]];
const barNameGap = [16, 11, 11, 16, 11, 11];
const yNameGap = [24, 32, 24, 24, 32, 24];
const labelX = [55, 415, 775, 54, 415, 777];
const labelY = [49, 49, 49, 338, 338, 338];
const titleCenters = [182, 543, 895];

const FONT = "'DejaVu Sans'";
const TEXT = "#2b2b2b";
const FRAME = "#666666";
const fmt = (v: number) => String(v).replace("-", "\u2212");

function tuples(groups: Group[]) {
  const out: number[][] = [];
  groups.forEach(([c, flat]) => {
    for (let i = 0; i + 1 < flat.length; i += 2) out.push([flat[i], flat[i + 1], c]);
  });
  return out;
}

function buildOption() {
  const grid: any[] = [];
  const xAxis: any[] = [];
  const yAxis: any[] = [];
  const series: any[] = [];
  const visualMap: any[] = [];
  const axisCommon = {
    nameLocation: "middle",
    nameTextStyle: { fontFamily: FONT, fontSize: 8.5, color: TEXT },
    axisLine: { show: false },
    axisTick: { show: true, length: 3, lineStyle: { color: FRAME, width: 1 } },
    splitLine: { show: true, lineStyle: { color: "#c8c8c8", width: 1 } },
  };
  const labelCommon = { fontFamily: FONT, fontSize: 8.5, color: TEXT, margin: 4, formatter: fmt, hideOverlap: false, showMinLabel: true, showMaxLabel: true };

  for (let i = 0; i < 6; i++) {
    grid.push({
      show: true, left: plotX[i][0], width: plotX[i][1] - plotX[i][0], top: plotY[i][0], height: plotY[i][1] - plotY[i][0],
      borderColor: FRAME, borderWidth: 1, backgroundColor: "#fff",
    });
    xAxis.push({
      ...axisCommon, type: "value", gridIndex: i, min: xRanges[i][0], max: xRanges[i][1],
      name: "t-SNE Component 1", nameGap: 14,
      axisTick: { ...axisCommon.axisTick, customValues: xTicks[i] },
      axisLabel: { ...labelCommon, customValues: xTicks[i] },
    });
    yAxis.push({
      ...axisCommon, type: "value", gridIndex: i, min: yRanges[i][0], max: yRanges[i][1],
      name: "t-SNE Component 2", nameGap: yNameGap[i],
      axisTick: { ...axisCommon.axisTick, customValues: yTicks[i] },
      axisLabel: { ...labelCommon, customValues: yTicks[i] },
    });
    series.push({
      type: "scatter", xAxisIndex: i, yAxisIndex: i, symbolSize: 6.5,
      itemStyle: { opacity: 0.8 }, data: tuples(allPoints[i]), encode: { x: 0, y: 1 },
    });
    visualMap.push({
      show: false, type: "continuous", seriesIndex: i, dimension: 2, min: 0, max: classMax[i],
      inRange: { color: viridis },
    });
  }

  for (let i = 0; i < 6; i++) {
    const g = 6 + i;
    grid.push({ left: barX[i][0], width: barX[i][1] - barX[i][0], top: plotY[i][0], height: plotY[i][1] - plotY[i][0] });
    xAxis.push({ type: "category", gridIndex: g, data: [""], show: false });
    yAxis.push({ type: "value", gridIndex: g, min: 0, max: classMax[i], show: false });
    series.push({
      type: "bar", xAxisIndex: g, yAxisIndex: g, barWidth: "100%", silent: true,
      data: [classMax[i]],
      itemStyle: {
        opacity: 0.8, borderColor: "#777", borderWidth: 1,
        color: new echarts.graphic.LinearGradient(0, 1, 0, 0, viridis.map((color, k) => ({ offset: k / (viridis.length - 1), color }))),
      },
    });
  }

  for (let i = 0; i < 6; i++) {
    yAxis.push({
      type: "category", gridIndex: 6 + i, position: "right", data: classTicks[i], boundaryGap: false,
      name: "Class Label", nameLocation: "middle", nameRotate: 90, nameGap: barNameGap[i],
      nameTextStyle: { fontFamily: FONT, fontSize: 8.5, color: TEXT },
      axisLine: { show: false },
      axisTick: { show: true, length: 2, interval: 0, lineStyle: { color: "#999999" } },
      splitLine: { show: false },
      axisLabel: { fontFamily: FONT, fontSize: 8.5, color: TEXT, margin: 4, interval: 0 },
    });
  }

  const graphic: any[] = [];
  titles.forEach((text, i) => {
    graphic.push({
      type: "text", x: titleCenters[i], y: 17, z: 100,
      style: { text, fontFamily: "'Liberation Sans'", fontWeight: "bold", fontSize: 23.2, fill: "#2e75b6", align: "center", verticalAlign: "middle" },
    });
  });
  panelLabels.forEach((text, i) => {
    graphic.push({
      type: "text", x: labelX[i], y: labelY[i], z: 100,
      style: { text, fontFamily: "'Liberation Sans'", fontWeight: "bold", fontSize: 15.5, fill: "#111", align: "left", verticalAlign: "middle" },
    });
  });

  return { animation: false, backgroundColor: "#fff", grid, xAxis, yAxis, series, visualMap, graphic };
}

export default function App() {
  const ref = useRef<HTMLDivElement>(null);
  useEffect(() => {
    if (!ref.current) return;
    const chart = echarts.init(ref.current, undefined, { renderer: "svg" });
    chart.setOption(buildOption());
    return () => chart.dispose();
  }, []);
  return <div ref={ref} style={{ position: "fixed", left: 0, top: 0, width: 1068, height: 586 }} />;
}
